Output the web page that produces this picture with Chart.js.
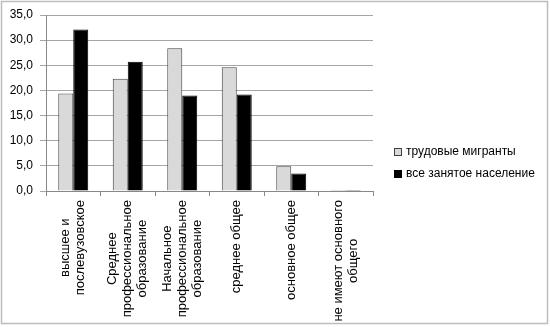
<!DOCTYPE html>
<html>
<head>
<meta charset="utf-8">
<title>Уровень образования</title>
<script src="https://cdn.jsdelivr.net/npm/chart.js"></script>
<style>
  html, body { margin: 0; padding: 0; background: #fff; }
  #chart { display: block; }
</style>
</head>
<body>
<canvas id="chart" width="550" height="327"></canvas>
<script>
// education levels, each label split into its printed lines
const categories = [
  ['высшее и', 'послевузовское'],
  ['Среднее', 'профессиональное', 'образование'],
  ['Начальное', 'профессиональное', 'образование'],
  ['среднее общее'],
  ['основное общее'],
  ['не имеют основного', 'общего']
];
const seriesNames = ['трудовые мигранты', 'все занятое население'];
const migrants = [19.4, 22.3, 28.4, 24.6, 4.9, 0.2];
const allEmployed = [32.1, 25.7, 19.0, 19.2, 3.5, 0.2];
const yTicks = [0, 5, 10, 15, 20, 25, 30, 35];

const axisFont = '13px "Liberation Sans", Arial, sans-serif';
const legendFont = '12px "Liberation Sans", Arial, sans-serif';

// white background plus the thin frame round the whole chart
const frame = {
  id: 'frame',
  beforeDraw(chart) {
    const ctx = chart.ctx;
    ctx.save();
    ctx.fillStyle = '#fff';
    ctx.fillRect(0, 0, chart.width, chart.height);
    ctx.strokeStyle = '#bdbdbd';
    ctx.lineWidth = 1.5;
    ctx.strokeRect(1.5, 1.5, chart.width - 4, chart.height - 5);
    ctx.restore();
  }
};

// vertical category labels, lines centred on the longest one
const verticalLabels = {
  id: 'verticalLabels',
  afterDraw(chart) {
    const ctx = chart.ctx;
    const xs = chart.scales.x;
    const top = xs.top + 9;
    const lineH = 15;
    ctx.save();
    ctx.font = axisFont;
    ctx.fillStyle = '#000';
    ctx.textAlign = 'center';
    ctx.textBaseline = 'middle';
    categories.forEach((lines, i) => {
      const x = xs.getPixelForTick(i);
      const maxW = Math.max(...lines.map(l => ctx.measureText(l).width));
      ctx.save();
      ctx.translate(x, top);
      ctx.rotate(-Math.PI / 2);
      lines.forEach((l, j) => {
        ctx.fillText(l, -maxW / 2, (j - (lines.length - 1) / 2) * lineH);
      });
      ctx.restore();
    });
    ctx.restore();
  }
};

// legend to the right of the plot
const sideLegend = {
  id: 'sideLegend',
  afterDraw(chart) {
    const ctx = chart.ctx;
    const x0 = chart.chartArea.right + 21;
    const ys = [152, 174];
    ctx.save();
    ctx.font = legendFont;
    ctx.textBaseline = 'middle';
    chart.data.datasets.forEach((ds, i) => {
      const y = ys[i];
      ctx.fillStyle = ds.backgroundColor;
      ctx.fillRect(x0 + 0.5, y - 3.5, 7, 7);
      ctx.strokeStyle = ds.borderColor;
      ctx.lineWidth = 1;
      ctx.strokeRect(x0 + 0.5, y - 3.5, 7, 7);
      ctx.fillStyle = '#000';
      ctx.fillText(ds.label, x0 + 12, y);
    });
    ctx.restore();
  }
};

new Chart(document.getElementById('chart'), {
  type: 'bar',
  data: {
    labels: categories,
    datasets: [
      {
        label: seriesNames[0],
        data: migrants,
        backgroundColor: '#d9d9d9',
        borderColor: '#404040',
        borderWidth: 1
      },
      {
        label: seriesNames[1],
        data: allEmployed,
        backgroundColor: '#000',
        borderColor: '#000',
        borderWidth: 1
      }
    ]
  },
  options: {
    responsive: false,
    animation: false,
    layout: { padding: { top: 15, right: 177, left: 0, bottom: 0 } },
    categoryPercentage: 0.55,
    barPercentage: 1,
    plugins: {
      legend: { display: false },
      tooltip: { enabled: false }
    },
    scales: {
      x: {
        afterFit: s => { s.height = 136; },
        grid: {
          offset: true,
          drawOnChartArea: false,
          drawTicks: true,
          tickLength: 5,
          color: '#888'
        },
        border: { color: '#888' },
        ticks: { display: false }
      },
      y: {
        min: 0,
        max: 35,
        afterFit: s => { s.width = 46; },
        afterBuildTicks: s => { s.ticks = yTicks.map(v => ({ value: v })); },
        grid: { color: '#a6a6a6', tickLength: 6 },
        border: { color: '#888' },
        ticks: {
          padding: 7,
          color: '#000',
          font: { family: '"Liberation Sans", Arial, sans-serif', size: 12 },
          callback: v => v.toFixed(1).replace('.', ',')
        }
      }
    }
  },
  plugins: [frame, verticalLabels, sideLegend]
});
</script>
</body>
</html>
